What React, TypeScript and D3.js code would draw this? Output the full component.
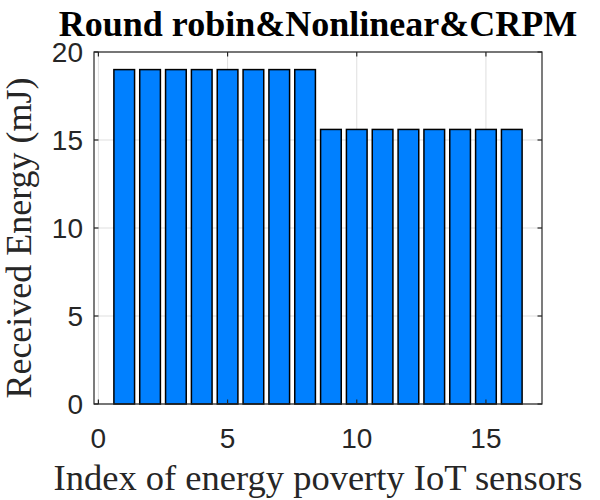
import React, { useRef, useEffect } from 'react';
import * as d3 from 'd3';

const sensorIndex = [1, 2, 3, 4, 5, 6, 7, 8, 9, 10, 11, 12, 13, 14, 15, 16];
const receivedEnergy = [19, 19, 19, 19, 19, 19, 19, 19, 15.6, 15.6, 15.6, 15.6, 15.6, 15.6, 15.6, 15.6];
const xTicks = [0, 5, 10, 15];
const yTicks = [0, 5, 10, 15, 20];

const chartTitle = 'Round robin&Nonlinear&CRPM';
const xLabel = 'Index of energy poverty IoT sensors';
const yLabel = 'Received Energy (mJ)';

const width = 600;
const height = 500;
const margin = { top: 52, right: 58, bottom: 96, left: 94 };
const axisColor = '#262626';

const BarChart: React.FC = () => {
    const svgRef = useRef<SVGSVGElement | null>(null);

    useEffect(() => {
        const svg = d3.select(svgRef.current);
        svg.selectAll('*').remove();

        const x = d3.scaleLinear().domain([-0.17, 17.17]).range([margin.left, width - margin.right]);
        const y = d3.scaleLinear().domain([0, 20]).range([height - margin.bottom, margin.top]);
        const x0 = margin.left, x1 = width - margin.right;
        const y0 = height - margin.bottom, y1 = margin.top;
        const tickLen = 4.5;

        // grid
        const grid = svg.append('g').attr('stroke', '#dfdfdf').attr('stroke-width', 1);
        xTicks.forEach(t => {
            grid.append('line').attr('x1', x(t)).attr('x2', x(t)).attr('y1', y0).attr('y2', y1);
        });
        yTicks.forEach(t => {
            grid.append('line').attr('x1', x0).attr('x2', x1).attr('y1', y(t)).attr('y2', y(t));
        });

        // bars
        const barW = x(0.8) - x(0);
        svg.append('g')
            .selectAll('rect')
            .data(sensorIndex)
            .enter()
            .append('rect')
            .attr('x', d => x(d) - barW / 2)
            .attr('width', barW)
            .attr('y', (d, i) => y(receivedEnergy[i]))
            .attr('height', (d, i) => y(0) - y(receivedEnergy[i]))
            .attr('fill', '#0080ff')
            .attr('stroke', '#000')
            .attr('stroke-width', 1.5);

        // box and ticks
        const ax = svg.append('g').attr('stroke', axisColor).attr('stroke-width', 1.2);
        ax.append('rect').attr('x', x0).attr('y', y1).attr('width', x1 - x0).attr('height', y0 - y1).attr('fill', 'none');
        xTicks.forEach(t => {
            ax.append('line').attr('x1', x(t)).attr('x2', x(t)).attr('y1', y0).attr('y2', y0 - tickLen);
            ax.append('line').attr('x1', x(t)).attr('x2', x(t)).attr('y1', y1).attr('y2', y1 + tickLen);
        });
        yTicks.forEach(t => {
            ax.append('line').attr('x1', x0).attr('x2', x0 + tickLen).attr('y1', y(t)).attr('y2', y(t));
            ax.append('line').attr('x1', x1).attr('x2', x1 - tickLen).attr('y1', y(t)).attr('y2', y(t));
        });

        // tick labels
        svg.append('g')
            .selectAll('text')
            .data(xTicks)
            .enter()
            .append('text')
            .attr('x', d => x(d))
            .attr('y', 448)
            .attr('text-anchor', 'middle')
            .style('font-family', '"Liberation Sans", Arial, sans-serif')
            .style('font-size', '28px')
            .attr('fill', axisColor)
            .text(d => d);

        svg.append('g')
            .selectAll('text')
            .data(yTicks)
            .enter()
            .append('text')
            .attr('x', 83)
            .attr('y', d => y(d))
            .attr('dy', '0.36em')
            .attr('text-anchor', 'end')
            .style('font-family', '"Liberation Sans", Arial, sans-serif')
            .style('font-size', '28px')
            .attr('fill', axisColor)
            .text(d => d);

        // labels
        svg.append('text')
            .attr('x', (x0 + x1) / 2)
            .attr('y', 490)
            .attr('text-anchor', 'middle')
            .style('font-family', '"Liberation Serif", "Times New Roman", serif')
            .style('font-size', '36.5px')
            .attr('fill', axisColor)
            .text(xLabel);

        svg.append('text')
            .attr('transform', `translate(31,238) rotate(-90)`)
            .attr('text-anchor', 'middle')
            .style('font-family', '"Liberation Serif", "Times New Roman", serif')
            .style('font-size', '36px')
            .attr('fill', axisColor)
            .text(yLabel);

        svg.append('text')
            .attr('x', (x0 + x1) / 2)
            .attr('y', 36)
            .attr('text-anchor', 'middle')
            .style('font-family', '"Liberation Serif", "Times New Roman", serif')
            .style('font-size', '36px')
            .style('font-weight', 'bold')
            .attr('fill', '#000')
            .text(chartTitle);
    }, []);

    return <svg ref={svgRef} width={width} height={height} style={{ background: '#fff' }} />;
};

export default function App() {
    return (
        <div style={{ position: 'absolute', left: 0, top: 0 }}>
            <BarChart />
        </div>
    );
}
